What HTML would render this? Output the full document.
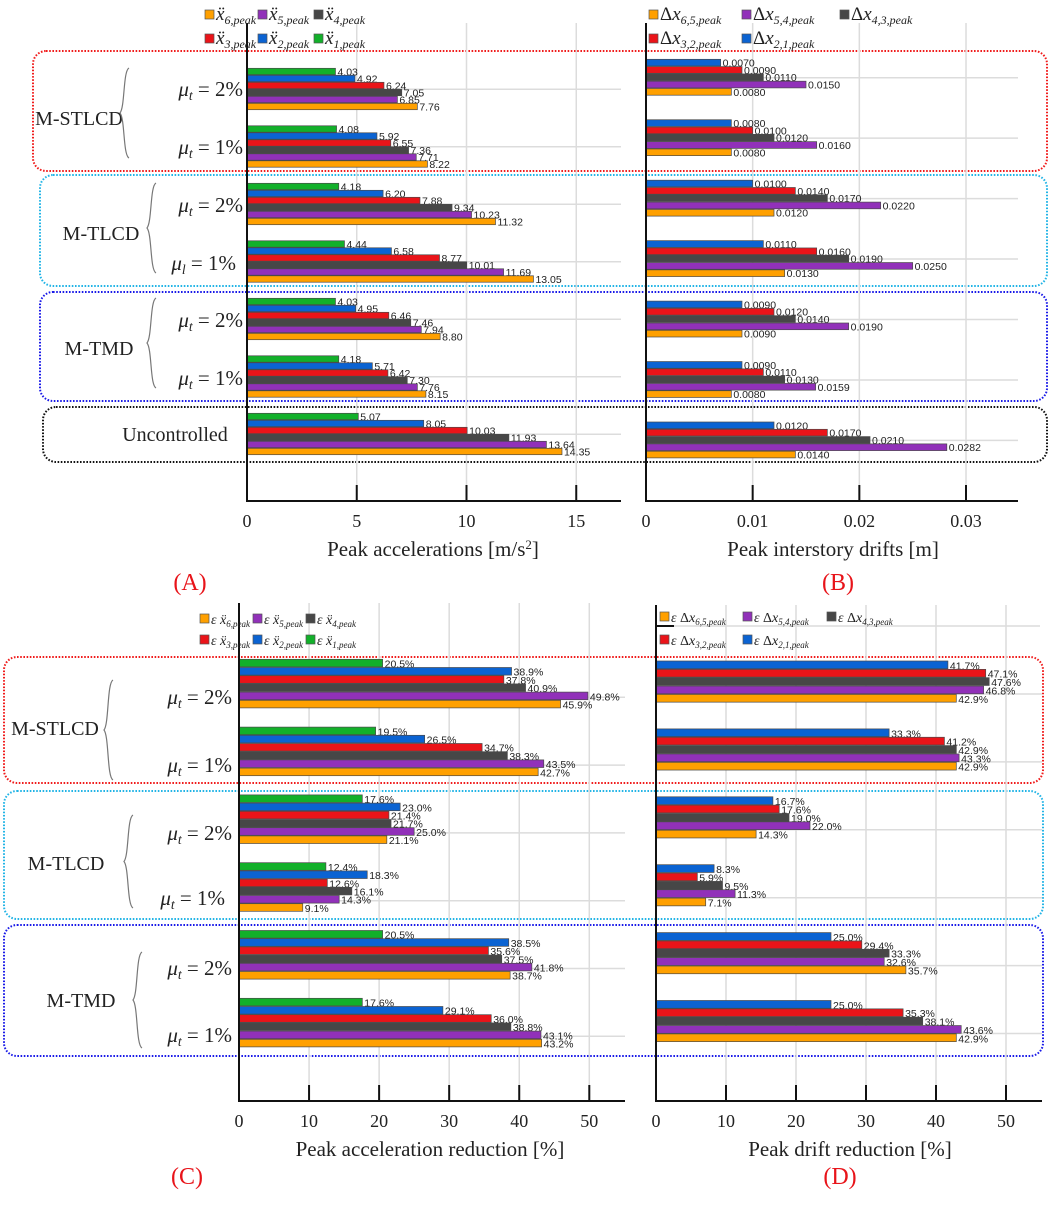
<!DOCTYPE html>
<html><head><meta charset="utf-8">
<style>
html,body{margin:0;padding:0;background:#fff;}
svg{display:block;}
.serif{font-family:"Liberation Serif",serif;}
.val{font-family:"Liberation Sans",sans-serif;font-size:10.5px;fill:#222;}
</style></head>
<body>
<svg id="fig" width="1052" height="1208" viewBox="0 0 1052 1208" xmlns="http://www.w3.org/2000/svg"></svg>
<script>
// ---------- DATA ----------
const groupsA = ["M-STLCD 2%","M-STLCD 1%","M-TLCD 2%","M-TLCD 1%","M-TMD 2%","M-TMD 1%","Uncontrolled"];
const accX1 = [4.03,4.08,4.18,4.44,4.03,4.18,5.07];
const accX2 = [4.92,5.92,6.20,6.58,4.95,5.71,8.05];
const accX3 = [6.24,6.55,7.88,8.77,6.46,6.42,10.03];
const accX4 = [7.05,7.36,9.34,10.01,7.46,7.30,11.93];
const accX5 = [6.85,7.71,10.23,11.69,7.94,7.76,13.64];
const accX6 = [7.76,8.22,11.32,13.05,8.80,8.15,14.35];
const drift21 = [0.0070,0.0080,0.0100,0.0110,0.0090,0.0090,0.0120];
const drift32 = [0.0090,0.0100,0.0140,0.0160,0.0120,0.0110,0.0170];
const drift43 = [0.0110,0.0120,0.0170,0.0190,0.0140,0.0130,0.0210];
const drift54 = [0.0150,0.0160,0.0220,0.0250,0.0190,0.0159,0.0282];
const drift65 = [0.0080,0.0080,0.0120,0.0130,0.0090,0.0080,0.0140];
const redA1 = [20.5,19.5,17.6,12.4,20.5,17.6];
const redA2 = [38.9,26.5,23.0,18.3,38.5,29.1];
const redA3 = [37.8,34.7,21.4,12.6,35.6,36.0];
const redA4 = [40.9,38.3,21.7,16.1,37.5,38.8];
const redA5 = [49.8,43.5,25.0,14.3,41.8,43.1];
const redA6 = [45.9,42.7,21.1,9.1,38.7,43.2];
const redD21 = [41.7,33.3,16.7,8.3,25.0,25.0];
const redD32 = [47.1,41.2,17.6,5.9,29.4,35.3];
const redD43 = [47.6,42.9,19.0,9.5,33.3,38.1];
const redD54 = [46.8,43.3,22.0,11.3,32.6,43.6];
const redD65 = [42.9,42.9,14.3,7.1,35.7,42.9];
const ticksA = [0,5,10,15];
const ticksB = [0,0.01,0.02,0.03];
const ticksC = [0,10,20,30,40,50];
const ticksD = [0,10,20,30,40,50];

const C = {g:"#12b02a",b:"#0b63d2",r:"#ea1419",k:"#474747",p:"#9131b9",o:"#ffa000"};
const NS="http://www.w3.org/2000/svg";
const svg=document.getElementById('fig');
function mk(tag,attrs,parent){const e=document.createElementNS(NS,tag);for(const k in attrs)e.setAttribute(k,attrs[k]);(parent||svg).appendChild(e);return e;}

// ---------- boxes ----------
function box(x1,y1,x2,y2,col,name){
  const r=mk('rect',{x:x1,y:y1,width:x2-x1,height:y2-y1,rx:13,ry:13,fill:'none',stroke:col,'stroke-width':2,'stroke-dasharray':'1.6 1.6'});
  
  
}
box(33,51,1047,171,'#f01c1c','box-m-stlcd-top');
box(40,175,1047,286,'#22b4e6','box-m-tlcd-top');
box(40,292,1047,401,'#1a1ae8','box-m-tmd-top');
box(43,407,1047,462,'#111','box-uncontrolled-top');
box(4,657,1043,783,'#f01c1c','box-m-stlcd-bottom');
box(4,791,1043,919,'#22b4e6','box-m-tlcd-bottom');
box(4,925,1043,1056,'#1a1ae8','box-m-tmd-bottom');

// ---------- panel drawer ----------
function panel(o){
  const g=mk('g',{});
  
  
  const sx=v=>o.x0+(v-o.vmin)*o.ppu;
  o.ticks.forEach(t=>{ if(t===0)return;
    const l=mk('line',{x1:sx(t),x2:sx(t),y1:o.top,y2:o.base,stroke:'#dcdcdc','stroke-width':1.5},g);
    
    
  });
  const n=o.series[0].length;
  for(let gi=0;gi<n;gi++){
    const top=o.gTop+gi*o.gStep;
    const hl=mk('line',{x1:o.x0,x2:o.xEnd,y1:top+o.gridOff,y2:top+o.gridOff,stroke:'#dcdcdc','stroke-width':1.5},g);
    
    
    o.series.forEach((arr,si)=>{
      const v=arr[gi], y=top+si*o.bh;
      const r=mk('rect',{x:o.x0,y:y,width:sx(v)-o.x0,height:o.bh-0.6,fill:o.colors[si],stroke:'#4a4a4a','stroke-width':0.7},g);
      
      
      const t=mk('text',{x:sx(v)+2,y:y+o.bh,class:'val'},g);
      t.textContent=o.fmt(v);
      
      
    });
  }
  const ya=mk('line',{x1:o.x0,x2:o.x0,y1:o.top,y2:o.base+1,stroke:'#111','stroke-width':2},g);
  
  
  const xa=mk('line',{x1:o.x0-1,x2:o.xEnd,y1:o.base,y2:o.base,stroke:'#111','stroke-width':2},g);
  
  
  o.ticks.forEach(t=>{
    if(t!==0){const tk=mk('line',{x1:sx(t),x2:sx(t),y1:o.base,y2:o.base-16,stroke:'#111','stroke-width':2},g);
      
      }
    const tl=mk('text',{x:sx(t),y:o.base+26,'text-anchor':'middle',class:'serif','font-size':18,fill:'#222'},g);
    tl.textContent=String(t);
    
    
  });
  const at=mk('text',{x:o.titleX,y:o.base+55,'text-anchor':'middle',class:'serif','font-size':21,fill:'#222'},g);
  at.innerHTML=o.title;
  
  
  const pl=mk('text',{x:o.plX,y:o.plY,'text-anchor':'middle',class:'serif','font-size':24,fill:'#e8141a'},g);
  pl.textContent=o.pl;
  
  
}
const six=[C.g,C.b,C.r,C.k,C.p,C.o], five=[C.b,C.r,C.k,C.p,C.o];
panel({name:'panel-a',x0:247,vmin:0,ppu:21.95,xEnd:621,top:23,base:501,ticks:ticksA,
  series:[accX1,accX2,accX3,accX4,accX5,accX6],colors:six,keys:['x1','x2','x3','x4','x5','x6'],
  gTop:68.3,gStep:57.5,bh:7,gridOff:21,fmt:v=>v.toFixed(2),
  title:'Peak accelerations [m/s<tspan baseline-shift="super" font-size="13">2</tspan>]',titleX:433,pl:'(A)',plX:190,plY:590});
panel({name:'panel-b',x0:646,vmin:0,ppu:10667,xEnd:1018,top:23,base:501,ticks:ticksB,
  series:[drift21,drift32,drift43,drift54,drift65],colors:five,keys:['d21','d32','d43','d54','d65'],
  gTop:59.3,gStep:60.45,bh:7.3,gridOff:18.4,fmt:v=>v.toFixed(4),
  title:'Peak interstory drifts [m]',titleX:833,pl:'(B)',plX:838,plY:590});
panel({name:'panel-c',x0:239,vmin:0,ppu:7.006,xEnd:625,top:603,base:1101,ticks:ticksC,
  series:[redA1,redA2,redA3,redA4,redA5,redA6],colors:six,keys:['x1','x2','x3','x4','x5','x6'],
  gTop:659.3,gStep:67.8,bh:8.2,gridOff:38,fmt:v=>v.toFixed(1)+'%',
  title:'Peak acceleration reduction [%]',titleX:430,pl:'(C)',plX:187,plY:1184});
panel({name:'panel-d',x0:656,vmin:0,ppu:7.0,xEnd:1042,top:605,base:1101,ticks:ticksD,
  series:[redD21,redD32,redD43,redD54,redD65],colors:five,keys:['d21','d32','d43','d54','d65'],
  gTop:661,gStep:67.9,bh:8.35,gridOff:33,fmt:v=>v.toFixed(1)+'%',
  title:'Peak drift reduction [%]',titleX:850,pl:'(D)',plX:840,plY:1184});
mk('line',{x1:656,x2:1040,y1:626,y2:626,stroke:'#dcdcdc','stroke-width':1.5});
mk('line',{x1:656,x2:674,y1:626,y2:626,stroke:'#111','stroke-width':2});

// ---------- legends ----------
function legend(items,xs,ys,size,prefix,name){
  items.forEach((it,i)=>{
    const x=xs[i%3], y=ys[Math.floor(i/3)];
    const r=mk('rect',{x:x,y:y-10,width:9,height:9,fill:it.c,stroke:'#555','stroke-width':0.7});
    
    
    const t=mk('text',{x:x+11,y:y,class:'serif','font-size':size,'font-style':'italic',fill:'#222'});
    t.innerHTML=prefix(it);
    
    
  });
}
const accItems=[{c:C.o,s:'6'},{c:C.p,s:'5'},{c:C.k,s:'4'},{c:C.r,s:'3'},{c:C.b,s:'2'},{c:C.g,s:'1'}];
const drItems=[{c:C.o,s:'6,5'},{c:C.p,s:'5,4'},{c:C.k,s:'4,3'},{c:C.r,s:'3,2'},{c:C.b,s:'2,1'}];
legend(accItems,[205,258,314],[20,44],19,it=>'x\u0308<tspan font-size="12" dy="4">'+it.s+',peak</tspan>','legend-acc');
legend(drItems,[649,742,840],[20,44],19,it=>'<tspan font-style="normal">Δ</tspan>x<tspan font-size="12" dy="4">'+it.s+',peak</tspan>','legend-drift');
legend(accItems,[200,253,306],[624,645],14,it=>'ε x\u0308<tspan font-size="9" dy="3">'+it.s+',peak</tspan>','legend-acc-red');
legend(drItems,[660,743,827],[622,645],14,it=>'ε <tspan font-style="normal">Δ</tspan>x<tspan font-size="9" dy="3">'+it.s+',peak</tspan>','legend-drift-red');

// ---------- group labels ----------
function txt(s,x,y,anchor,size,name){
  const t=mk('text',{x:x,y:y,'text-anchor':anchor,class:'serif','font-size':size,fill:'#222'});
  t.innerHTML=s;
  
  
}
function mu(x,y,p,size,sub){
  txt('<tspan font-style="italic">μ</tspan><tspan font-style="italic" font-size="'+(size*0.65)+'" dy="4">'+(sub||'t')+'</tspan><tspan dy="-4"> = '+p+'%</tspan>',x,y,'end',size,'mu-label');
}
function brace(x,y1,y2){
  const ym=(y1+y2)/2;
  const p=mk('path',{d:`M${x+9} ${y1} C${x+3} ${y1+3} ${x+5} ${ym-6} ${x} ${ym} C${x+5} ${ym+6} ${x+3} ${y2-3} ${x+9} ${y2}`,fill:'none',stroke:'#777','stroke-width':1.2});
  
  
}
txt('M-STLCD',79,125,'middle',20,'group-label-m-stlcd');
txt('M-TLCD',101,240,'middle',20,'group-label-m-tlcd');
txt('M-TMD',99,355,'middle',20,'group-label-m-tmd');
txt('Uncontrolled',175,441,'middle',20,'group-label-uncontrolled');
brace(120,68,158); brace(147,183,273); brace(147,298,388);
mu(243,96,'2',21); mu(243,154,'1',21);
mu(243,212,'2',21); mu(236,270,'1',21,'l');
mu(243,327,'2',21); mu(243,385,'1',21);
txt('M-STLCD',55,735,'middle',20,'group-label-m-stlcd-c');
txt('M-TLCD',66,870,'middle',20,'group-label-m-tlcd-c');
txt('M-TMD',81,1007,'middle',20,'group-label-m-tmd-c');
brace(104,680,780); brace(124,815,908); brace(133,952,1048);
mu(232,704,'2',21); mu(232,772,'1',21);
mu(232,840,'2',21); mu(225,905,'1',21);
mu(232,975,'2',21); mu(232,1042,'1',21);
</script>
</body></html>
